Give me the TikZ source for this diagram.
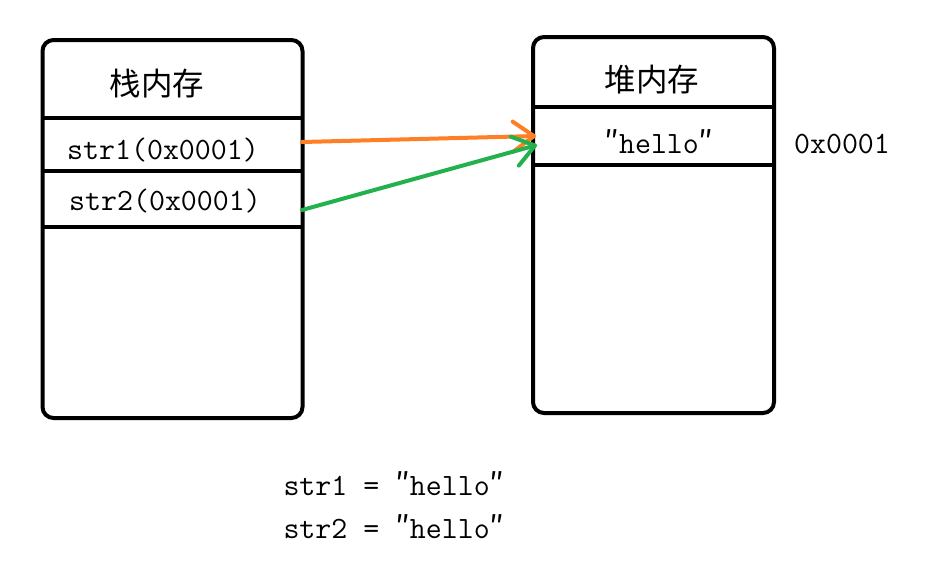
\documentclass[tikz,border=0pt]{standalone}
\usepackage{fontspec}
\newfontfamily\cjk{Noto Sans CJK SC}
\usetikzlibrary{arrows.meta}

\definecolor{paintorange}{HTML}{FF7F27}
\definecolor{paintgreen}{HTML}{22B14C}

\tikzset{
  membox/.style={draw, line width=4pt, rounded corners=11pt, inner sep=0pt},
  title/.style={font=\cjk\fontsize{31.5}{32}\selectfont},
  code/.style={font=\ttfamily\fontsize{31}{32}\selectfont, anchor=base, inner sep=0pt},
  ptr/.style={line width=4pt, line cap=round,
    -{Straight Barb[length=21pt, width=30pt, line width=4pt, round]}}
}
\newcommand{\qq}{{\cjk ″}}

\begin{document}
\begin{tikzpicture}[x=1pt, y=-1pt]
  \useasboundingbox (0,0) rectangle (934,582);

  % Draw the two memory boxes
  \node[membox, minimum width=260pt, minimum height=378pt] (stack) at (172.5,229) {};
  \node[membox, minimum width=241pt, minimum height=376pt] (heap) at (653.5,225) {};

  % Rows of the stack
  \foreach \y in {118, 171, 227} {
      \draw[line width=4pt] (42,\y) -- (303,\y);
  }
  % Rows of the heap
  \foreach \y in {107, 165} {
      \draw[line width=4pt] (533,\y) -- (774,\y);
  }

  % Titles and cells
  \node[title] (stacktitle) at (157,84) {栈内存};
  \node[title] (heaptitle) at (652,80) {堆内存};
  \node[code] (str1) at (163,159) {str1(0x0001)};
  \node[code] (str2) at (165,210) {str2(0x0001)};
  \node[code] (hello) at (659,153) {\qq hello\qq};
  \node[code] (addr) at (842,153) {0x0001};

  % Source code below
  \node[code] (line1) at (394,495) {str1 = \qq hello\qq};
  \node[code] (line2) at (394,538) {str2 = \qq hello\qq};

  % Pointers
  \coordinate (s1) at (302,142);
  \coordinate (s2) at (302,210);
  \coordinate (h1) at (536,136);
  \coordinate (h2) at (537,145);
  \draw[ptr, paintorange] (s1) -- (h1);
  \draw[ptr, paintgreen] (s2) -- (h2);
\end{tikzpicture}
\end{document}
